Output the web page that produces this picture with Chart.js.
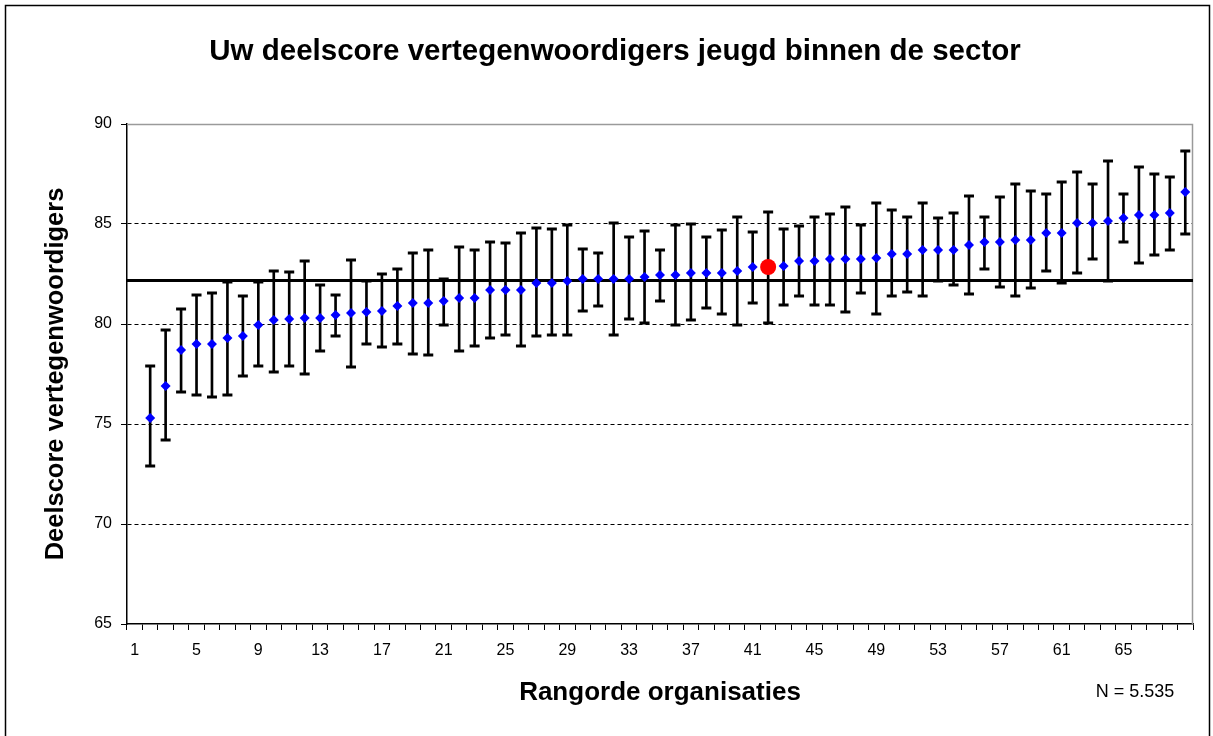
<!DOCTYPE html>
<html>
<head>
<meta charset="utf-8">
<script src="https://cdn.jsdelivr.net/npm/chart.js@4.4.1/dist/chart.umd.min.js"></script>
<style>
  html, body { margin: 0; padding: 0; background: #fff; }
  #wrap { width: 1213px; height: 736px; position: relative; }
</style>
</head>
<body>
<div id="wrap"><canvas id="c" width="1213" height="736"></canvas></div>
<script>
const categories = ['1','2','3','4','5','6','7','8','9','10','11','12','13','14','15','16','17','18','19','20',
  '21','22','23','24','25','26','27','28','29','30','31','32','33','34','35','36','37','38','39','40',
  '41','42','43','44','45','46','47','48','49','50','51','52','53','54','55','56','57','58','59','60',
  '61','62','63','64','65','66','67','68','69'];

const scores = [null, 75.3, 76.9, 78.7, 79.0, 79.0, 79.3, 79.4, 79.95, 80.2,
  80.25, 80.3, 80.3, 80.45, 80.55, 80.6, 80.65, 80.9, 81.05, 81.05,
  81.15, 81.3, 81.3, 81.7, 81.7, 81.7, 82.05, 82.05, 82.15, 82.25,
  82.25, 82.25, 82.25, 82.35, 82.45, 82.45, 82.55, 82.55, 82.55, 82.65,
  82.85, 82.85, 82.9, 83.15, 83.15, 83.25, 83.25, 83.25, 83.3, 83.5,
  83.5, 83.7, 83.7, 83.7, 83.95, 84.1, 84.1, 84.2, 84.2, 84.55,
  84.55, 85.05, 85.05, 85.15, 85.3, 85.45, 85.45, 85.55, 86.6];

const lowerBounds = [null, 72.9, 74.2, 76.6, 76.45, 76.35, 76.45, 77.4, 77.9, 77.6,
  77.9, 77.5, 78.65, 79.4, 77.85, 79.0, 78.85, 79.0, 78.5, 78.45,
  79.95, 78.65, 78.9, 79.3, 79.45, 78.9, 79.4, 79.45, 79.45, 80.65,
  80.9, 79.45, 80.25, 80.05, 81.15, 79.95, 80.2, 80.8, 80.5, 79.95,
  81.05, 80.05, 80.95, 81.4, 80.95, 80.95, 80.6, 81.55, 80.5, 81.4,
  81.6, 81.4, 82.15, 81.95, 81.5, 82.75, 81.85, 81.4, 81.8, 82.65,
  82.05, 82.55, 83.25, 82.15, 84.1, 83.05, 83.45, 83.7, 84.5];

const upperBounds = [null, 77.9, 79.7, 80.75, 81.45, 81.55, 82.1, 81.4, 82.1, 82.65,
  82.6, 83.15, 81.95, 81.45, 83.2, 82.15, 82.5, 82.75, 83.55, 83.7,
  82.25, 83.85, 83.7, 84.1, 84.05, 84.55, 84.8, 84.75, 84.95, 83.75,
  83.55, 85.05, 84.35, 84.65, 83.7, 84.95, 85.0, 84.35, 84.7, 85.35,
  84.6, 85.6, 84.75, 84.9, 85.35, 85.5, 85.85, 84.95, 86.05, 85.7,
  85.35, 86.05, 85.3, 85.55, 86.4, 85.35, 86.35, 87.0, 86.65, 86.5,
  87.1, 87.6, 87.0, 88.15, 86.5, 87.85, 87.5, 87.35, 88.65];

const shownTickLabels = ['1','5','9','13','17','21','25','29','33','37','41','45','49','53','57','61','65'];
const ownIndex = 41;          // category "42": own organisation (red marker)
const sectorMean = 82.18;     // horizontal reference line
const yTicks = [65, 70, 75, 80, 85, 90];
const titleText = 'Uw deelscore vertegenwoordigers jeugd binnen de sector';
const xTitle = 'Rangorde organisaties';
const yTitle = 'Deelscore vertegenwoordigers';
const nLabel = 'N = 5.535';

const FONT = "'Liberation Sans', Arial, Helvetica, sans-serif";

const ranges = lowerBounds.map((lo, i) => (lo === null ? null : [lo, upperBounds[i]]));

const decorPlugin = {
  id: 'decor',
  beforeDraw(chart) {
    const ctx = chart.ctx;
    ctx.save();
    ctx.fillStyle = '#fff';
    ctx.fillRect(0, 0, chart.width, chart.height);
    ctx.strokeStyle = '#000';
    ctx.lineWidth = 1.5;
    ctx.beginPath();
    ctx.moveTo(5.5, chart.height + 5);
    ctx.lineTo(5.5, 5.5);
    ctx.lineTo(1209.5, 5.5);
    ctx.lineTo(1209.5, chart.height + 5);
    ctx.stroke();
    ctx.restore();
  },
  beforeDatasetsDraw(chart) {
    const ctx = chart.ctx;
    const a = chart.chartArea;
    const y = chart.scales.y.getPixelForValue(sectorMean);
    ctx.save();
    ctx.strokeStyle = '#9a9a9a';
    ctx.lineWidth = 1.5;
    ctx.beginPath();
    ctx.moveTo(a.left, a.top + 0.5);
    ctx.lineTo(a.right - 0.5, a.top + 0.5);
    ctx.lineTo(a.right - 0.5, a.bottom);
    ctx.stroke();
    ctx.strokeStyle = '#000';
    ctx.lineWidth = 3;
    ctx.beginPath();
    ctx.moveTo(a.left, y);
    ctx.lineTo(a.right, y);
    ctx.stroke();
    ctx.restore();
  },
  afterDraw(chart) {
    const ctx = chart.ctx;
    ctx.save();
    ctx.fillStyle = '#000';
    ctx.textAlign = 'center';
    ctx.textBaseline = 'middle';
    ctx.font = 'bold 29.5px ' + FONT;
    ctx.fillText(titleText, 615, 52);
    ctx.font = '18px ' + FONT;
    ctx.fillText(nLabel, 1135, 692);
    ctx.restore();
  }
};

new Chart(document.getElementById('c'), {
  type: 'bar',
  data: {
    labels: categories,
    datasets: [
      {
        type: 'line',
        label: 'Deelscore',
        data: scores,
        showLine: false,
        order: 0,
        pointStyle: ctx => (ctx.dataIndex === ownIndex ? 'circle' : 'rectRot'),
        pointRadius: ctx => (ctx.dataIndex === ownIndex ? 8 : 5),
        pointBackgroundColor: ctx => (ctx.dataIndex === ownIndex ? '#ff0000' : '#0000ff'),
        pointBorderColor: ctx => (ctx.dataIndex === ownIndex ? '#ff0000' : '#0000ff'),
        pointBorderWidth: 0
      },
      {
        type: 'line',
        label: 'upper',
        data: upperBounds,
        showLine: false,
        order: 1,
        pointStyle: 'line',
        pointRadius: 5,
        pointBorderWidth: 3,
        pointBorderColor: '#000'
      },
      {
        type: 'line',
        label: 'lower',
        data: lowerBounds,
        showLine: false,
        order: 1,
        pointStyle: 'line',
        pointRadius: 5,
        pointBorderWidth: 3,
        pointBorderColor: '#000'
      },
      {
        type: 'bar',
        label: 'range',
        data: ranges,
        order: 2,
        barThickness: 2,
        backgroundColor: '#000',
        borderWidth: 0
      }
    ]
  },
  options: {
    responsive: false,
    animation: false,
    events: [],
    layout: { padding: { left: 0, right: 20, top: 124, bottom: 0 } },
    plugins: {
      legend: { display: false },
      tooltip: { enabled: false },
      title: { display: false }
    },
    scales: {
      x: {
        type: 'category',
        offset: true,
        grid: { offset: true, drawOnChartArea: false, drawTicks: true, tickLength: 6, color: '#000', tickColor: '#000', lineWidth: 1 },
        border: { display: true, color: '#000', width: 1.5 },
        ticks: {
          autoSkip: false, maxRotation: 0, minRotation: 0,
          color: '#000', font: { family: FONT, size: 16 }, padding: 11,
          callback: (v, i) => (shownTickLabels.includes(categories[i]) ? categories[i] : '')
        },
        title: {
          display: true, text: xTitle, color: '#000',
          font: { family: FONT, size: 26, weight: 'bold', lineHeight: 1.2 },
          padding: { top: 0, bottom: 28 }
        },
        afterFit: s => { s.height = 112; }
      },
      y: {
        min: 65, max: 90,
        afterBuildTicks: s => { s.ticks = yTicks.map(v => ({ value: v })); },
        grid: {
          drawTicks: true, tickLength: 6, tickColor: '#000', lineWidth: 1,
          color: c => (c.tick && c.tick.value > 65 && c.tick.value < 90 ? '#000' : 'rgba(0,0,0,0)')
        },
        border: { display: true, color: '#000', width: 1.5, dash: [4, 3] },
        ticks: { color: '#000', font: { family: FONT, size: 16 }, padding: 9 },
        title: {
          display: true, text: yTitle, color: '#000',
          font: { family: FONT, size: 25.5, weight: 'bold', lineHeight: 1.2 },
          padding: { top: 41, bottom: 0 }
        },
        afterFit: s => { s.width = 127; }
      }
    }
  },
  plugins: [decorPlugin]
});
</script>
</body>
</html>
